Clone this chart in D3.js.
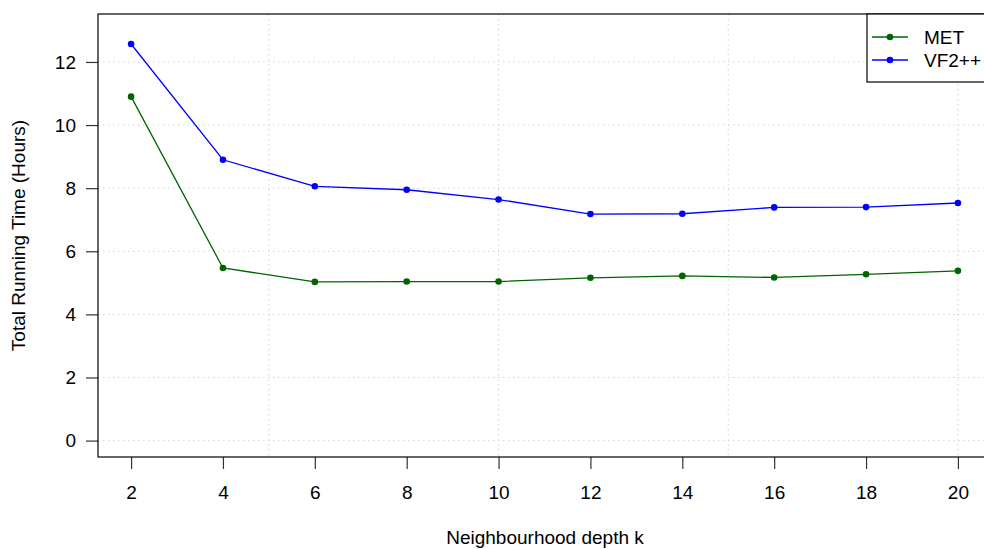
<!DOCTYPE html>
<html>
<head>
  <meta content="text/html;charset=utf-8" http-equiv="Content-Type">
  <title>Running time by neighbourhood depth</title>
  <style type="text/css">
    body { margin: 0; background: #fff; }
    #chart text { font-family: "Liberation Sans", Arial, sans-serif; fill: #000; }
    .grid line { stroke: #d3d3d3; stroke-dasharray: 1.5 3.5; }
    .axis path { display: none; }
    .axis line { stroke: #333; stroke-width: 1.2; }
  </style>
  <script src="https://cdnjs.cloudflare.com/ajax/libs/d3/7.6.1/d3.min.js"></script>
  <script>
    var depths = [2, 4, 6, 8, 10, 12, 14, 16, 18, 20];
    var met    = [10.90, 5.47, 5.03, 5.04, 5.04, 5.16, 5.22, 5.17, 5.27, 5.38];
    var vf2pp  = [12.57, 8.90, 8.06, 7.95, 7.64, 7.18, 7.19, 7.39, 7.40, 7.53];
    var yTicks = [0, 2, 4, 6, 8, 10, 12];
    var xGrid  = [5, 10, 15, 20];

    var seriesNames  = ['MET', 'VF2++'];
    var seriesColors = ['#006400', '#0000ff'];

    function main() {
      var W = 984, H = 549;
      var left = 98, right = 991, top = 14, bottom = 457;
      var fs = '19px';

      var svg = d3.select('#chart').attr('width', W).attr('height', H);

      // R style: 4% padding on the ranges
      var x = d3.scaleLinear().domain([1.28, 20.72]).range([left, right]);
      var y = d3.scaleLinear().domain([-0.52, 13.52]).range([bottom, top]);

      // grid
      var grid = svg.append('g').attr('class', 'grid');
      grid.selectAll('.h').data(yTicks).enter().append('line')
        .attr('x1', left).attr('x2', right)
        .attr('y1', function(d) { return y(d); }).attr('y2', function(d) { return y(d); });
      grid.selectAll('.v').data(xGrid).enter().append('line')
        .attr('y1', top).attr('y2', bottom)
        .attr('x1', function(d) { return x(d); }).attr('x2', function(d) { return x(d); });

      // axes
      var xAxis = svg.append('g').attr('class', 'axis')
        .attr('transform', 'translate(0,' + bottom + ')')
        .call(d3.axisBottom(x).tickValues(depths).tickSize(12).tickPadding(17));
      xAxis.selectAll('text').style('font-size', fs);

      var yAxis = svg.append('g').attr('class', 'axis')
        .attr('transform', 'translate(' + left + ',0)')
        .call(d3.axisLeft(y).tickValues(yTicks).tickSize(12).tickPadding(10));
      yAxis.selectAll('text').style('font-size', fs);

      // box
      svg.append('rect')
        .attr('x', left).attr('y', top)
        .attr('width', right - left).attr('height', bottom - top)
        .attr('fill', 'none').attr('stroke', '#000').attr('stroke-width', 1.2);

      // series
      var series = [met, vf2pp];
      var line = d3.line()
        .x(function(d, i) { return x(depths[i]); })
        .y(function(d) { return y(d); });

      series.forEach(function(vals, s) {
        svg.append('path').datum(vals)
          .attr('d', line)
          .attr('fill', 'none')
          .attr('stroke', seriesColors[s])
          .attr('stroke-width', 1.3);
        svg.selectAll('.pt' + s).data(vals).enter().append('circle')
          .attr('cx', function(d, i) { return x(depths[i]); })
          .attr('cy', function(d) { return y(d); })
          .attr('r', 3.3)
          .attr('fill', seriesColors[s]);
      });

      // axis titles
      svg.append('text')
        .attr('x', 545).attr('y', 544)
        .attr('text-anchor', 'middle')
        .style('font-size', fs)
        .text('Neighbourhood depth k');

      svg.append('text')
        .attr('transform', 'translate(25,' + ((top + bottom) / 2) + ') rotate(-90)')
        .attr('text-anchor', 'middle')
        .style('font-size', fs)
        .text('Total Running Time (Hours)');

      // legend
      var lg = svg.append('g');
      lg.append('rect')
        .attr('x', 867).attr('y', top)
        .attr('width', 130).attr('height', 68)
        .attr('fill', '#fff').attr('stroke', '#000').attr('stroke-width', 1.2);
      seriesNames.forEach(function(name, s) {
        var ly = 37 + s * 23;
        lg.append('line')
          .attr('x1', 872).attr('x2', 908).attr('y1', ly).attr('y2', ly)
          .attr('stroke', seriesColors[s]).attr('stroke-width', 1.3);
        lg.append('circle').attr('cx', 890).attr('cy', ly).attr('r', 3.3)
          .attr('fill', seriesColors[s]);
        lg.append('text').attr('x', 924).attr('y', ly + 7)
          .style('font-size', fs).text(name);
      });
    }
  </script>
</head>
<body onload='main()'>
  <svg id="chart"></svg>
</body>
</html>
